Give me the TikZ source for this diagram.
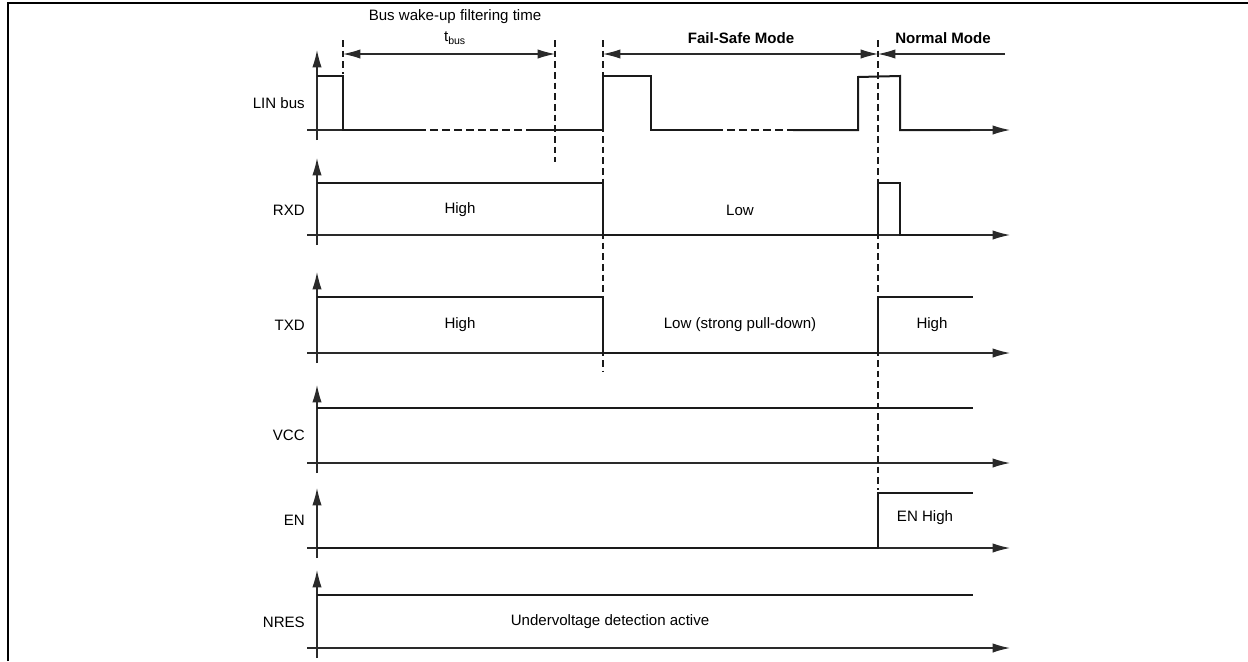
\documentclass[tikz,border=0pt]{standalone}
\usepackage{fontspec}
\setmainfont{Liberation Sans}
\usetikzlibrary{arrows.meta,positioning,calc}
\definecolor{ink}{HTML}{1A1A1A}
\definecolor{axisgrey}{HTML}{2A2A2A}

\begin{document}
\begin{tikzpicture}[x=0.75pt,y=-0.75pt,>={Latex[length=13pt,width=7pt]},
  wave/.style={ink,line width=1.5pt},
  axisline/.style={axisgrey,line width=0.9pt},
  guide/.style={ink,line width=0.8pt,dash pattern=on 5pt off 3pt},
  dimline/.style={axisgrey,line width=0.8pt},
  txt/.style={font=\fontsize{11.3}{13}\selectfont,inner sep=0pt}]
\useasboundingbox (0,0) rectangle (1248,661);
\draw[line width=2pt] (8,661) -- (8,3) -- (1248,3);

% axes and signal names
\draw[axisline,->] (317,140) -- (317,50);
\draw[axisline] (307,130) -- (343,130);
\draw[axisline,->] (970,130) -- (1010,130);
\node[txt,anchor=east] (sig1) at (305,103) {LIN bus};
\foreach \name/\base/\top/\ly [count=\i from 2] in {RXD/235/158/210,TXD/353/272/325,VCC/463/385/435,EN/548/488/520,NRES/648/570/622}{
  \draw[axisline,->] (317,\base+10) -- (317,\top);
  \draw[axisline,->] (307,\base) -- (1010,\base);
  \node[txt,anchor=east] (sig\i) at (305,\ly) {\name};
}

% waveforms
\draw[wave] (317,76) -- (343,76) -- (343,130) -- (418,130);
\draw[wave,dash pattern=on 6pt off 3pt] (418,130) -- (528,130);
\draw[wave] (528,130) -- (603,130) -- (603,76) -- (651,76) -- (651,130) -- (715,130);
\draw[wave,dash pattern=on 6pt off 3pt] (715,130) -- (793,130);
\draw[wave] (793,130) -- (858,130) -- (858,77) -- (900,76) -- (900,130) -- (970,130);
\draw[wave] (317,183) -- (603,183) -- (603,235) -- (878,235) -- (878,183) -- (900,183) -- (900,235) -- (970,235);
\draw[wave] (317,297) -- (603,297) -- (603,353) -- (878,353) -- (878,297) -- (973,297);
\draw[wave] (317,408) -- (973,408);
\draw[wave] (317,548) -- (878,548) -- (878,493) -- (973,493);
\draw[wave] (317,595) -- (973,595);

% mode boundaries
\draw[guide] (343,40) -- (343,74);
\draw[guide] (555,40) -- (555,162);
\draw[guide] (603,40) -- (603,372);
\draw[guide] (878,40) -- (878,490);
\coordinate (wake) at (343,54);
\coordinate (filt) at (555,54);
\coordinate (fsafe) at (603,54);
\coordinate (norm) at (878,54);
\coordinate (rend) at (1005,54);
\draw[dimline,<->] (wake) -- (filt);
\draw[dimline,<->] (fsafe) -- (norm);
\draw[dimline,->] (rend) -- (norm);

\node[txt] (filttxt) at (455,17) {Bus wake-up filtering time};
\node[txt] (tbus) at (455,38) {t\textsubscript{bus}};
\node[txt,font=\fontsize{11.3}{13}\selectfont\bfseries] (fsmode) at (741,38) {Fail-Safe Mode};
\node[txt,font=\fontsize{11.3}{13}\selectfont\bfseries] (nmode) at (943,38) {Normal Mode};

% level labels
\node[txt] (rxdhi) at (460,210) {High};
\node[txt] (rxdlo) at (740,210) {Low};
\node[txt] (txdhi) at (460,325) {High};
\node[txt] (txdlo) at (740,325) {Low (strong pull-down)};
\node[txt] (txdhi2) at (932,325) {High};
\node[txt] (enhi) at (925,518) {EN High};
\node[txt] (nresuv) at (610,622) {Undervoltage detection active};
\end{tikzpicture}
\end{document}
